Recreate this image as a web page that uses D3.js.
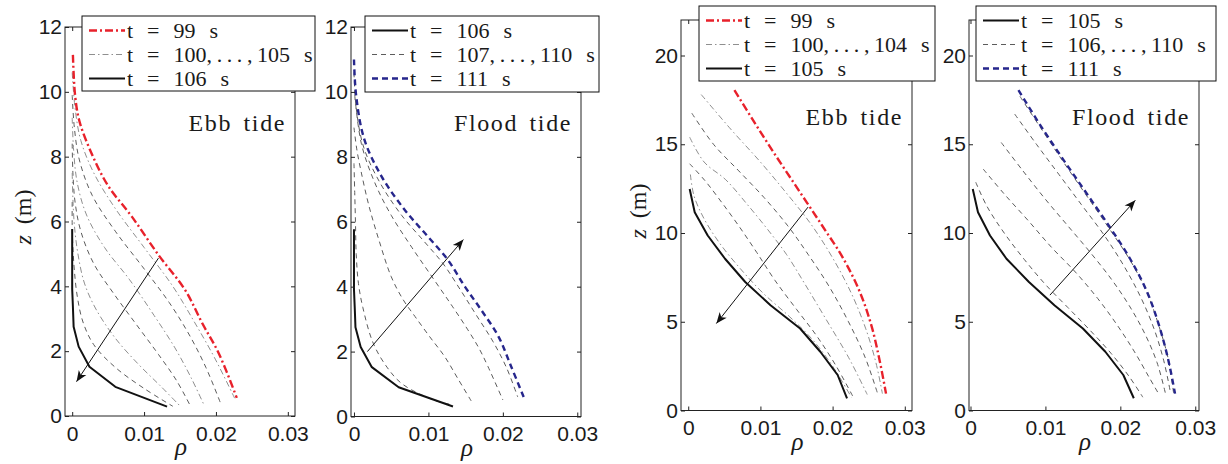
<!DOCTYPE html>
<html><head><meta charset="utf-8">
<script src="https://cdn.jsdelivr.net/npm/d3@7"></script>
<style>html,body{margin:0;padding:0;background:#fff;}svg{display:block;}</style>
</head><body>
<svg id="chart" width="1228" height="464"></svg>
<script>
// ---------- DATA ----------
const xTicks = [0, 0.01, 0.02, 0.03];
const xTickLabels = ["0", "0.01", "0.02", "0.03"];
const yTicksShallow = [0, 2, 4, 6, 8, 10, 12];
const yTicksDeep = [0, 5, 10, 15, 20];
const panelTitles = ["Ebb tide", "Flood tide", "Ebb tide", "Flood tide"];
const legendShallowEbb = ["t = 99 s", "t = 100,...,105 s", "t = 106 s"];
const legendShallowFlood = ["t = 106 s", "t = 107,...,110 s", "t = 111 s"];
const legendDeepEbb = ["t = 99 s", "t = 100,...,104 s", "t = 105 s"];
const legendDeepFlood = ["t = 105 s", "t = 106,...,110 s", "t = 111 s"];
const axisLabelX = "ρ";

// panel 1 (shallow, ebb) : [rho, z]
const s_ebb_t99  = [[0.0001,11.14],[0.0004,9.9],[0.0010,9.1],[0.0027,8.1],[0.0050,7.1],[0.0083,6.15],[0.0120,4.97],[0.0157,3.89],[0.0181,2.86],[0.0204,1.93],[0.0229,0.56]];
const s_ebb_t100 = [[0.0000,10.6],[0.0004,9.5],[0.0012,8.5],[0.0030,7.5],[0.0060,6.4],[0.0100,5.2],[0.0140,4.0],[0.0170,2.9],[0.0198,1.8],[0.0226,0.55]];
const s_ebb_t101 = [[0.0000,9.9],[0.0003,8.9],[0.0010,7.9],[0.0028,6.8],[0.0060,5.7],[0.0098,4.6],[0.0135,3.5],[0.0163,2.5],[0.0186,1.5],[0.0206,0.42]];
const s_ebb_t102 = [[0.0000,9.2],[0.0002,8.2],[0.0007,7.2],[0.0020,6.2],[0.0045,5.2],[0.0080,4.2],[0.0114,3.1],[0.0143,2.1],[0.0165,1.2],[0.0183,0.36]];
const s_ebb_t103 = [[0.0000,8.4],[0.0001,7.5],[0.0004,6.6],[0.0012,5.7],[0.0030,4.7],[0.0057,3.8],[0.0090,2.8],[0.0120,1.9],[0.0145,1.1],[0.0164,0.33]];
const s_ebb_t104 = [[0.0000,7.5],[0.0001,6.7],[0.0003,5.9],[0.0008,5.0],[0.0017,4.1],[0.0033,3.3],[0.0060,2.4],[0.0092,1.6],[0.0124,0.9],[0.0150,0.31]];
const s_ebb_t105 = [[0.0000,6.6],[0.0000,5.9],[0.0001,5.2],[0.0003,4.5],[0.0007,3.7],[0.0015,2.9],[0.0030,2.2],[0.0060,1.5],[0.0100,0.85],[0.0140,0.3]];
const s_ebb_t106 = [[0.0000,5.77],[0.0000,5.15],[0.0000,4.53],[0.0000,3.92],[0.0001,3.37],[0.0002,2.75],[0.0009,2.14],[0.0024,1.52],[0.0060,0.90],[0.0132,0.29]];
const s_ebb_arrow = [[0.0120,4.87],[0.0006,1.06]];

// panel 2 (shallow, flood)
const s_fld_t106 = [[0.0000,5.77],[0.0000,5.15],[0.0000,4.53],[0.0000,3.92],[0.0001,3.37],[0.0002,2.75],[0.0009,2.14],[0.0024,1.52],[0.0060,0.90],[0.0133,0.31]];
const s_fld_t107 = [[0.0000,7.8],[0.0001,6.9],[0.0002,6.0],[0.0003,5.0],[0.0006,4.1],[0.0012,3.35],[0.0026,2.25],[0.0045,1.5],[0.0065,1.0],[0.0108,0.5],[0.0128,0.38]];
const s_fld_t108 = [[0.0000,8.9],[0.0004,8.2],[0.0010,7.5],[0.0020,6.5],[0.0034,5.4],[0.0050,4.31],[0.0066,3.6],[0.0082,3.08],[0.0102,2.45],[0.0122,1.84],[0.0140,1.15],[0.0158,0.46]];
const s_fld_t109 = [[0.0001,9.9],[0.0010,8.4],[0.0028,7.2],[0.0050,6.2],[0.0078,5.2],[0.0108,4.2],[0.0132,3.4],[0.0153,2.67],[0.0168,2.1],[0.0180,1.54],[0.0200,0.51]];
const s_fld_t110 = [[0.0000,10.6],[0.0003,9.5],[0.0013,8.3],[0.0035,7.2],[0.0064,6.2],[0.0094,5.4],[0.0120,4.7],[0.0143,3.9],[0.0165,3.1],[0.0187,2.3],[0.0205,1.5],[0.0220,0.6]];
const s_fld_t111 = [[0.0000,11.0],[0.0003,9.87],[0.0014,8.53],[0.0037,7.4],[0.0068,6.37],[0.0099,5.55],[0.0126,4.83],[0.0149,4.0],[0.0171,3.28],[0.0194,2.47],[0.0211,1.55],[0.0228,0.6]];
const s_fld_arrow = [[0.0018,2.0],[0.0147,5.45]];

// panel 3 (deep, ebb)
const d_ebb_t99  = [[0.0064,18.05],[0.0093,16.15],[0.0123,14.25],[0.0154,12.35],[0.0185,10.45],[0.0215,8.55],[0.0238,6.65],[0.0254,4.75],[0.0265,2.85],[0.0274,0.95]];
const d_ebb_t100 = [[0.0018,17.8],[0.0060,15.8],[0.0100,14.0],[0.0135,12.3],[0.0170,10.5],[0.0200,8.6],[0.0226,6.6],[0.0246,4.6],[0.0260,2.7],[0.0269,0.95]];
const d_ebb_t101 = [[0.0005,16.75],[0.0035,15.0],[0.0070,13.5],[0.0105,12.0],[0.0138,10.4],[0.0166,8.8],[0.0195,7.0],[0.0222,5.0],[0.0245,3.0],[0.0262,1.0]];
const d_ebb_t102 = [[0.0002,15.4],[0.0022,14.0],[0.0052,13.0],[0.0082,11.6],[0.0110,10.2],[0.0136,8.8],[0.0162,7.1],[0.0190,5.2],[0.0222,3.0],[0.0248,0.9]];
const d_ebb_t103 = [[0.0002,13.9],[0.0023,12.96],[0.0045,11.8],[0.0070,10.4],[0.0095,8.9],[0.0120,7.34],[0.0150,5.7],[0.0178,4.2],[0.0205,2.5],[0.0228,0.8]];
const d_ebb_t104 = [[0.0003,13.3],[0.0008,12.1],[0.0022,10.8],[0.0044,9.4],[0.0072,8.0],[0.0104,6.6],[0.0140,5.3],[0.0172,4.0],[0.0200,2.5],[0.0226,0.75]];
const d_ebb_t105 = [[0.0002,12.48],[0.0009,11.17],[0.0027,9.86],[0.0051,8.55],[0.0079,7.24],[0.0114,5.93],[0.0155,4.62],[0.0183,3.31],[0.0207,2.0],[0.0220,0.69]];
const d_ebb_arrow = [[0.0166,11.46],[0.0039,4.9]];

// panel 4 (deep, flood)
const d_fld_t105 = [[0.0003,12.48],[0.0010,11.17],[0.0026,9.86],[0.0048,8.55],[0.0078,7.24],[0.0112,5.93],[0.0150,4.62],[0.0180,3.31],[0.0204,2.0],[0.0218,0.69]];
const d_fld_t106 = [[0.0007,12.86],[0.0022,11.5],[0.0045,10.0],[0.0072,8.5],[0.0100,7.1],[0.0130,5.8],[0.0160,4.5],[0.0188,3.2],[0.0212,1.9],[0.0230,0.75]];
const d_fld_t107 = [[0.0017,13.6],[0.0045,12.2],[0.0077,10.7],[0.0108,9.2],[0.0140,7.8],[0.0170,6.3],[0.0196,4.8],[0.0219,3.3],[0.0238,1.9],[0.0251,0.95]];
const d_fld_t108 = [[0.0041,15.1],[0.0070,13.5],[0.0100,11.9],[0.0130,10.4],[0.0160,8.9],[0.0188,7.4],[0.0212,5.9],[0.0233,4.3],[0.0249,2.7],[0.0260,1.0]];
const d_fld_t109 = [[0.0059,16.7],[0.0088,15.0],[0.0118,13.3],[0.0148,11.6],[0.0178,9.9],[0.0204,8.2],[0.0227,6.4],[0.0245,4.6],[0.0258,2.8],[0.0267,1.0]];
const d_fld_t110 = [[0.0066,17.7],[0.0094,15.9],[0.0124,14.0],[0.0155,12.1],[0.0186,10.2],[0.0214,8.4],[0.0236,6.6],[0.0252,4.7],[0.0264,2.9],[0.0271,1.0]];
const d_fld_t111 = [[0.0064,18.05],[0.0092,16.15],[0.0122,14.25],[0.0153,12.35],[0.0184,10.45],[0.0213,8.55],[0.0236,6.65],[0.0252,4.75],[0.0264,2.85],[0.0273,0.95]];
const d_fld_arrow = [[0.0106,6.5],[0.0220,11.84]];

// ---------- STYLES ----------
const ST = {
  red:   {stroke:"#e8212b", width:2.4, dash:"8,3,2,3", linear:false},
  grayDD:{stroke:"#8f8f8f", width:1,   dash:"6,3,1.5,3", linear:false},
  grayD: {stroke:"#5c5c5c", width:1,   dash:"5,4", linear:false},
  black: {stroke:"#111111", width:2,   dash:null, linear:true},
  blue:  {stroke:"#26268c", width:2.4, dash:"6,4", linear:false}
};

const panels = [
  {x0:65, x1:295, y0:27, y1:416, xdom:[-0.001,0.031], ydom:[0,12], yt:yTicksShallow,
   curves:[[s_ebb_t100,"grayDD"],[s_ebb_t101,"grayD"],[s_ebb_t102,"grayDD"],[s_ebb_t103,"grayD"],[s_ebb_t104,"grayDD"],[s_ebb_t105,"grayD"],[s_ebb_t99,"red"],[s_ebb_t106,"black"]],
   arrow:s_ebb_arrow, title:panelTitles[0], titleY:131,
   leg:{x:82,y:16,w:233,h:75, labels:legendShallowEbb, styles:["red","grayDD","black"]},
   ylabel:{x:31, y:217}},
  {x0:351, x1:581, y0:27, y1:416.5, xdom:[-0.0004,0.0305], ydom:[0,12], yt:yTicksShallow,
   curves:[[s_fld_t107,"grayD"],[s_fld_t108,"grayD"],[s_fld_t109,"grayD"],[s_fld_t110,"grayD"],[s_fld_t111,"blue"],[s_fld_t106,"black"]],
   arrow:s_fld_arrow, title:panelTitles[1], titleY:131,
   leg:{x:365,y:16,w:234,h:76, labels:legendShallowFlood, styles:["black","grayD","blue"]}},
  {x0:681, x1:912, y0:20, y1:410.5, xdom:[-0.001,0.031], ydom:[0,22], yt:yTicksDeep,
   curves:[[d_ebb_t100,"grayDD"],[d_ebb_t101,"grayD"],[d_ebb_t102,"grayDD"],[d_ebb_t103,"grayD"],[d_ebb_t104,"grayDD"],[d_ebb_t99,"red"],[d_ebb_t105,"black"]],
   arrow:d_ebb_arrow, title:panelTitles[2], titleY:125,
   leg:{x:699,y:6,w:236,h:75, labels:legendDeepEbb, styles:["red","grayDD","black"]},
   ylabel:{x:646, y:211}},
  {x0:969, x1:1199, y0:20, y1:410.5, xdom:[-0.0002,0.0305], ydom:[0,22], yt:yTicksDeep,
   curves:[[d_fld_t106,"grayD"],[d_fld_t107,"grayD"],[d_fld_t108,"grayD"],[d_fld_t109,"grayD"],[d_fld_t110,"grayD"],[d_fld_t111,"blue"],[d_fld_t105,"black"]],
   arrow:d_fld_arrow, title:panelTitles[3], titleY:125,
   leg:{x:976,y:6,w:240,h:75, labels:legendDeepFlood, styles:["black","grayD","blue"]}}
];

const svg = d3.select("#chart");
const defs = svg.append("defs");
defs.append("marker").attr("id","ah").attr("viewBox","-12 -6 14 12")
  .attr("refX",0).attr("refY",0).attr("markerWidth",14).attr("markerHeight",12)
  .attr("markerUnits","userSpaceOnUse").attr("orient","auto")
  .append("path").attr("d","M0,0 L-11,-4.5 L-8,0 L-11,4.5 Z").attr("fill","#111");

const SANS = "'Liberation Sans', Arial, Helvetica, sans-serif";
const SERIF = "'Liberation Serif', 'Times New Roman', serif";

// legend label: "t = A s" ; middle part with ",...," gets extra letter spacing
function legendText(sel, lab) {
  const m = lab.match(/^(.*?)(,\.\.\.,)(.*)$/);
  if (!m) { sel.text(lab); return; }
  sel.append("tspan").text(m[1]);
  sel.append("tspan").attr("letter-spacing", 4.6).text(m[2]);
  sel.append("tspan").text(m[3]);
}

panels.forEach(p => {
  const g = svg.append("g");
  const x = d3.scaleLinear().domain(p.xdom).range([p.x0, p.x1]);
  const y = d3.scaleLinear().domain(p.ydom).range([p.y1, p.y0]);

  // curves
  p.curves.forEach(([data, sk]) => {
    const s = ST[sk];
    const line = d3.line().x(d => x(d[0])).y(d => y(d[1]))
      .curve(s.linear ? d3.curveLinear : d3.curveCatmullRom.alpha(0.5));
    g.append("path").attr("d", line(data)).attr("fill","none")
      .attr("stroke", s.stroke).attr("stroke-width", s.width)
      .attr("stroke-dasharray", s.dash).attr("stroke-linejoin","round");
  });

  // arrow
  g.append("line")
    .attr("x1", x(p.arrow[0][0])).attr("y1", y(p.arrow[0][1]))
    .attr("x2", x(p.arrow[1][0])).attr("y2", y(p.arrow[1][1]))
    .attr("stroke","#111").attr("stroke-width",1).attr("marker-end","url(#ah)");

  // axes ticks
  const tl = 4;
  const ax = g.append("g").attr("transform",`translate(0,${p.y1})`)
    .call(d3.axisBottom(x).tickValues(xTicks).tickSize(-tl).tickPadding(10)
      .tickFormat((d,i) => xTickLabels[i]));
  const axT = g.append("g").attr("transform",`translate(0,${p.y0})`)
    .call(d3.axisTop(x).tickValues(xTicks).tickSize(-tl).tickFormat(""));
  const ay = g.append("g").attr("transform",`translate(${p.x0},0)`)
    .call(d3.axisLeft(y).tickValues(p.yt).tickSize(-tl).tickPadding(3).tickFormat(d3.format("d")));
  const ayR = g.append("g").attr("transform",`translate(${p.x1},0)`)
    .call(d3.axisRight(y).tickValues(p.yt).tickSize(-tl).tickFormat(""));
  [ax, axT, ay, ayR].forEach(a => {
    a.select(".domain").remove();
    a.selectAll("line").attr("stroke","#222");
    a.selectAll("text").attr("font-family", SANS).attr("font-size", 21).attr("fill","#1a1a1a");
  });

  // frame
  g.append("rect").attr("x", p.x0).attr("y", p.y0)
    .attr("width", p.x1 - p.x0).attr("height", p.y1 - p.y0)
    .attr("fill","none").attr("stroke","#222").attr("stroke-width",1);

  // x label
  g.append("text").attr("x", (p.x0 + p.x1)/2 + 1).attr("y", p.y1 + 39)
    .attr("text-anchor","middle").attr("font-family", SERIF).attr("font-style","italic")
    .attr("font-size", 25).attr("fill","#1a1a1a").text(axisLabelX);

  // y label
  if (p.ylabel) {
    const t = g.append("text").attr("transform", `translate(${p.ylabel.x},${p.ylabel.y}) rotate(-90)`)
      .attr("text-anchor","middle").attr("font-family", SERIF).attr("font-size", 24)
      .attr("fill","#1a1a1a").attr("word-spacing", 5);
    t.append("tspan").attr("font-style","italic").text("z");
    t.append("tspan").text(" (m)");
  }

  // panel title
  g.append("text").attr("x", p.x1 - 9).attr("y", p.titleY).attr("text-anchor","end")
    .attr("font-family", SERIF).attr("font-size", 24).attr("fill","#1a1a1a")
    .attr("letter-spacing", 1.6).attr("word-spacing", 4)
    .text(p.title);

  // legend
  const L = p.leg;
  const lg = svg.append("g");
  lg.append("rect").attr("x", L.x).attr("y", L.y).attr("width", L.w).attr("height", L.h)
    .attr("fill","#fff").attr("stroke","#111").attr("stroke-width",1);
  L.labels.forEach((lab, i) => {
    const cy = L.y + 14.5 + i*24;
    const s = ST[L.styles[i]];
    lg.append("line").attr("x1", L.x + 7).attr("x2", L.x + 43).attr("y1", cy).attr("y2", cy)
      .attr("stroke", s.stroke).attr("stroke-width", s.width).attr("stroke-dasharray", s.dash);
    const t = lg.append("text").attr("x", L.x + 45).attr("y", cy + 7.5)
      .attr("font-family", SERIF).attr("font-size", 22).attr("fill","#1a1a1a")
      .attr("word-spacing", 8.5);
    legendText(t, lab);
  });
});
</script>
</body></html>
